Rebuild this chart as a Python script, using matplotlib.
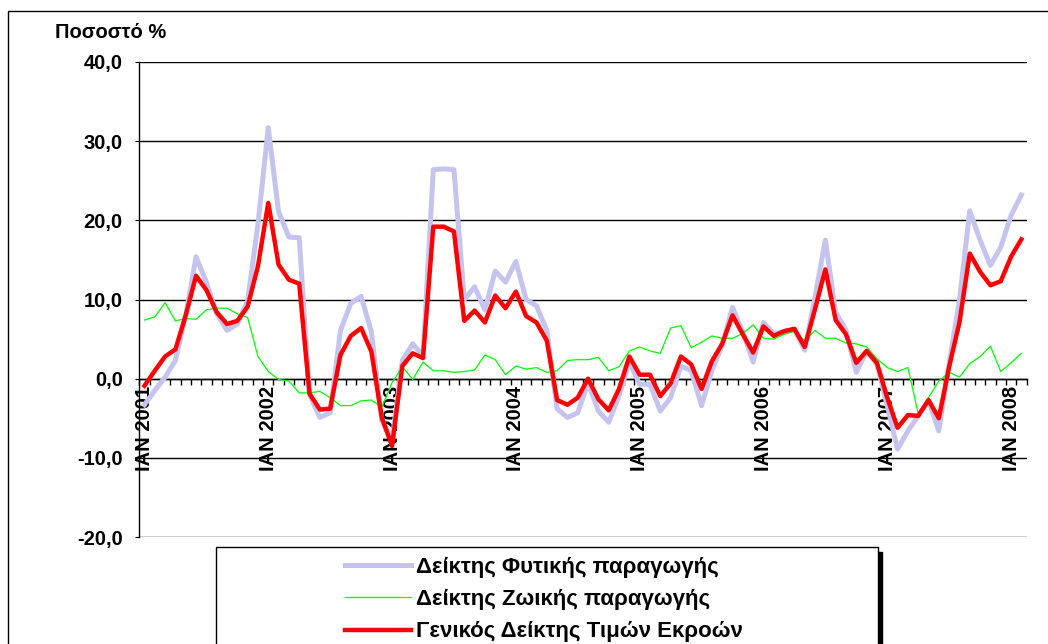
import numpy as np
import matplotlib
matplotlib.use('Agg')
import matplotlib.pyplot as plt
from matplotlib.patches import Rectangle
from matplotlib.ticker import FuncFormatter

plt.rcParams['font.family'] = ['Liberation Sans', 'DejaVu Sans']

# monthly values, January 2001 .. February 2008 (annual change, %)
years = [2001, 2002, 2003, 2004, 2005, 2006, 2007, 2008]

plant = [
    -3.3, -1.5, 0.2, 2.3, 8.0, 15.4, 12.2, 8.2, 6.1, 6.9,
    9.8, 19.5, 31.7, 21.1, 17.9, 17.8, -2.0, -4.9, -4.3, 6.1,
    9.5, 10.4, 5.9, -5.3, -7.8, 2.3, 4.4, 2.9, 26.4, 26.5,
    26.4, 10.0, 11.6, 8.7, 13.6, 12.2, 14.8, 10.0, 9.2, 6.1,
    -3.8, -4.9, -4.3, -0.5, -4.1, -5.5, -2.2, 2.1, -0.7, -0.7,
    -4.1, -2.4, 1.6, 1.0, -3.4, 1.0, 4.2, 9.0, 5.9, 2.1,
    7.1, 5.7, 5.9, 6.2, 3.6, 10.3, 17.5, 8.4, 6.1, 0.8,
    3.5, 1.8, -3.4, -8.9, -6.6, -4.7, -2.8, -6.6, 1.9, 9.9,
    21.2, 17.5, 14.3, 16.6, 20.6, 23.2,
]

animal = [
    7.4, 7.8, 9.6, 7.3, 7.6, 7.5, 8.7, 8.9, 8.9, 8.2,
    7.7, 2.8, 0.9, -0.1, -0.3, -1.8, -1.8, -1.6, -2.4, -3.4,
    -3.4, -2.8, -2.7, -3.6, -0.5, 1.5, -0.1, 2.1, 1.0, 1.0,
    0.8, 0.9, 1.1, 3.0, 2.4, 0.5, 1.6, 1.2, 1.4, 0.8,
    1.0, 2.3, 2.4, 2.4, 2.7, 1.0, 1.5, 3.5, 4.0, 3.5,
    3.2, 6.4, 6.7, 3.9, 4.6, 5.4, 5.1, 5.1, 5.7, 6.8,
    5.1, 5.0, 5.6, 6.0, 4.8, 6.1, 5.1, 5.1, 4.5, 4.4,
    4.0, 2.5, 1.4, 0.9, 1.4, -4.4, -2.4, -0.3, 0.8, 0.2,
    1.9, 2.8, 4.1, 0.9, 2.0, 3.2,
]

general = [
    -0.9, 1.0, 2.8, 3.7, 8.0, 13.0, 11.2, 8.4, 6.9, 7.3,
    9.1, 14.2, 22.2, 14.4, 12.5, 12.0, -1.9, -3.9, -3.8, 3.0,
    5.4, 6.4, 3.4, -4.9, -8.5, 1.6, 3.2, 2.6, 19.2, 19.2,
    18.6, 7.3, 8.6, 7.1, 10.5, 8.9, 11.0, 7.9, 7.1, 4.8,
    -2.7, -3.3, -2.4, 0.0, -2.6, -4.0, -1.3, 2.8, 0.5, 0.5,
    -2.2, -0.6, 2.8, 1.8, -1.3, 2.2, 4.4, 8.0, 5.6, 3.3,
    6.6, 5.4, 6.0, 6.3, 4.0, 8.8, 13.8, 7.4, 5.6, 2.0,
    3.5, 2.0, -2.4, -6.2, -4.6, -4.7, -2.7, -5.0, 1.5, 7.1,
    15.8, 13.5, 11.8, 12.3, 15.4, 17.6,
]

series_labels = ['Δείκτης Φυτικής παραγωγής',
                 'Δείκτης Ζωικής παραγωγής',
                 'Γενικός Δείκτης Τιμών Εκροών']
y_ticks = [-20, -10, 0, 10, 20, 30, 40]

W, H = 1048, 644


def comma_fmt(v, pos):
    return f'{v:.1f}'.replace('.', ',')


def plot_chart():
    fig = plt.figure(figsize=(W / 100, H / 100), dpi=100)
    ax = fig.add_axes([139.3 / W, 1 - 537 / H, (1026.5 - 139.3) / W, (537 - 62) / H])

    months = np.arange(len(general))
    l1, = ax.plot(months, plant, color='#C4C4EE', lw=3.6, zorder=3)
    l2, = ax.plot(months, animal, color='#00FF00', lw=0.9, zorder=4)
    l3, = ax.plot(months, general, color='#FF0000', lw=3.2, zorder=5)

    ax.set_xlim(-0.5, len(general) - 0.5)
    ax.set_ylim(-20, 40)

    for side in ('top', 'right'):
        ax.spines[side].set_visible(False)
    ax.spines['bottom'].set_position(('data', 0))
    ax.spines['left'].set_linewidth(1.0)
    ax.spines['bottom'].set_linewidth(1.0)

    ax.set_yticks(y_ticks)
    ax.yaxis.set_major_formatter(FuncFormatter(comma_fmt))
    ax.yaxis.grid(True, color='black', lw=1.0)
    ax.set_axisbelow(True)
    ax.tick_params(axis='y', length=3, direction='out', pad=9,
                   labelsize=14.5)
    for t in ax.get_yticklabels():
        t.set_fontweight('bold')

    ax.set_xticks([12 * k for k in range(len(years))])
    ax.set_xticklabels([f'ΙΑΝ {y}' for y in years], rotation=90,
                       fontsize=14.5, fontweight='bold', va='top')
    ax.set_xticks(np.arange(-0.5, len(general), 1), minor=True)
    ax.tick_params(axis='x', which='major', length=0, pad=5)
    ax.tick_params(axis='x', which='minor', length=4.5, direction='out', width=1)

    fig.text(55 / W, 1 - 32 / H, 'Ποσοστό %', fontsize=14.5,
             fontweight='bold', va='center', ha='left')

    # chart border
    fig.patches.append(Rectangle((8 / W, -0.1), 1.2, 1 - 11 / H + 0.1,
                                 transform=fig.transFigure, fill=False,
                                 edgecolor='black', lw=1.0, zorder=0))

    # legend frame with shadow
    lx0, lx1, ly0 = 216 / W, 878 / W, 1 - 547 / H
    fig.patches.append(Rectangle((lx0 + 4 / W, -0.1), lx1 - lx0, ly0 + 0.1 - 5 / H,
                                 transform=fig.transFigure, facecolor='black',
                                 edgecolor='black', zorder=1))
    fig.patches.append(Rectangle((lx0, -0.1), lx1 - lx0, ly0 + 0.1,
                                 transform=fig.transFigure, facecolor='white',
                                 edgecolor='black', lw=1.0, zorder=2))

    fig.legend([l1, l2, l3], series_labels, loc='upper center',
               bbox_to_anchor=(544 / W, 1 - 546 / H), frameon=False,
               prop={'weight': 'bold', 'size': 16}, handlelength=3.0,
               handletextpad=0.22, labelspacing=0.5, borderpad=0)

    fig.savefig('out.png', dpi=100)


def main():
    plot_chart()


if __name__ == "__main__":
    main()
